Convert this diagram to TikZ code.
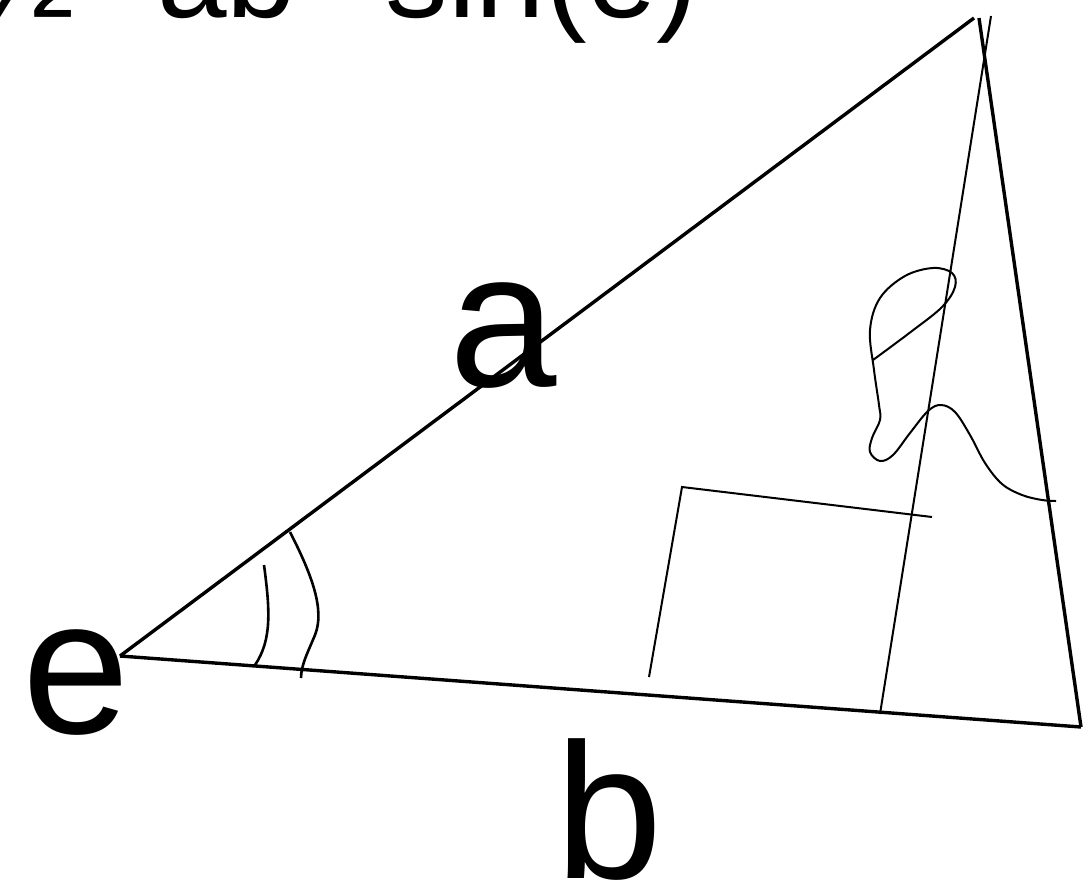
\documentclass[tikz,border=0pt]{standalone}
\usepackage{fontspec}
\setmainfont{Liberation Sans}
\usepackage{tikz}
\usetikzlibrary{positioning}

\begin{document}
\begin{tikzpicture}[
  x=1pt, y=-1pt,
  side/.style={line width=3.4pt},
  thin/.style={line width=2pt},
  arcline/.style={line width=2.6pt},
  biglabel/.style={font=\fontsize{193}{193}\selectfont,inner sep=0pt,anchor=base},
  toplabel/.style={font=\fontsize{125}{125}\selectfont,inner sep=0pt,anchor=base}
]
  \useasboundingbox (0,0) rectangle (1084,886);
  \clip (0,0) rectangle (1084,886);

  % Formula (cut off at the top)
  \node[toplabel,anchor=base west] (half) at (-30,17) {½};
  \node[toplabel] (ab)  at (227,17) {ab};
  \node[toplabel] (sin) at (542,17) {sin(e)};

  % Triangle
  \coordinate (E)  at (120,656);
  \coordinate (T1) at (974,18);
  \coordinate (T2) at (979,18);
  \coordinate (R)  at (1081,727);
  \draw[side] (E) -- (T1);
  \draw[side] (T2) -- (R);
  \draw[side] (E) -- (R);

  % Height and right angle
  \coordinate (H1) at (991,16);
  \coordinate (H2) at (880,714);
  \draw[thin] (H1) -- (H2);
  \coordinate (Q1) at (649,677);
  \coordinate (Q2) at (682,487);
  \coordinate (Q3) at (932,517);
  \draw[thin] (Q1) -- (Q2) -- (Q3);

  % Angle marks at e
  \draw[arcline] (264,565) .. controls (270,610) and (272,640) .. (255,665);
  \draw[arcline] (290,532) .. controls (312,575) and (325,610) .. (315,635)
                 .. controls (308,652) and (301,665) .. (301,678);

  % Scribble
  \draw[thin] plot[smooth,tension=0.6] coordinates {
    (873,360) (912,331) (942,307) (955,287) (952,273) (933,268) (905,276)
    (880,298) (870,330) (874,370) (879,405) (880,420) (872,438) (870,452)
    (880,461) (893,455) (910,433) (928,411) (941,405) (955,412) (970,435)
    (985,463) (1002,484) (1022,495) (1042,500) (1056,501)};

  % Side labels
  \node[biglabel] (a) at (503,386) {a};
  \node[biglabel] (b) at (609,878) {b};
  \node[biglabel] (e) at (76,733)  {e};
\end{tikzpicture}
\end{document}
